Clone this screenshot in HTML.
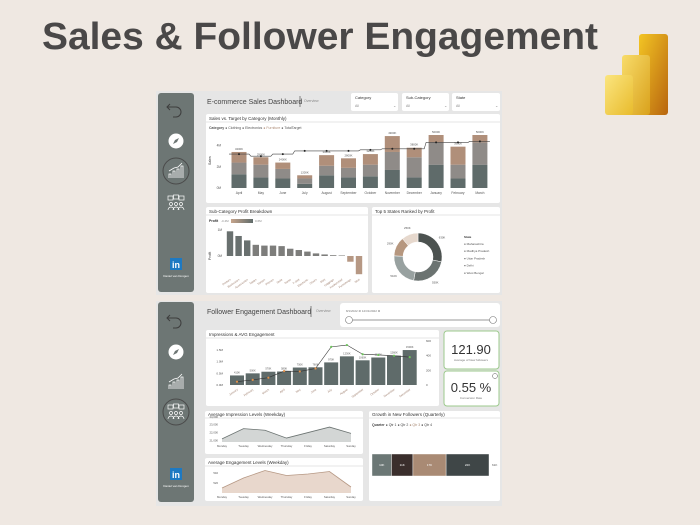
<!DOCTYPE html>
<html><head><meta charset="utf-8"><style>
body{margin:0;background:#efe8e2;}
svg{display:block;font-family:"Liberation Sans",sans-serif;}
</style></head><body>
<svg id="s" width="700" height="525" viewBox="0 0 700 525" xmlns="http://www.w3.org/2000/svg">
<defs>
<linearGradient id="g1" x1="0" y1="0" x2="1" y2="1"><stop offset="0" stop-color="#f3c524"/><stop offset="1" stop-color="#b8650f"/></linearGradient>
<linearGradient id="g2" x1="0" y1="0" x2="1" y2="1"><stop offset="0" stop-color="#f8dc6a"/><stop offset="1" stop-color="#d9a11c"/></linearGradient>
<linearGradient id="g3" x1="0" y1="0" x2="1" y2="1"><stop offset="0" stop-color="#fbe57f"/><stop offset="1" stop-color="#e8bb2c"/></linearGradient>
<linearGradient id="pg" x1="0" x2="1"><stop offset="0" stop-color="#c7a58c"/><stop offset="1" stop-color="#5f6b6a"/></linearGradient>
<g id="chartIco"><path d="M-7 7V3h2v4M-3 7V0h2v7M1 7v-9h2v9M5 7v-12h2v12" fill="none" stroke="#fff" stroke-width="0.8"/><path d="M-7 0L-2-3 2-4 6-8" fill="none" stroke="#fff" stroke-width="0.8"/></g>
<g id="peopleIco"><rect x="-8" y="-7" width="5" height="4" fill="none" stroke="#fff" stroke-width="0.7"/><rect x="-2.5" y="-8" width="5" height="4" fill="none" stroke="#fff" stroke-width="0.7"/><rect x="3" y="-7" width="5" height="4" fill="none" stroke="#fff" stroke-width="0.7"/><circle cx="-5" cy="1" r="1.5" fill="none" stroke="#fff" stroke-width="0.7"/><circle cx="0" cy="1" r="1.5" fill="none" stroke="#fff" stroke-width="0.7"/><circle cx="5" cy="1" r="1.5" fill="none" stroke="#fff" stroke-width="0.7"/><path d="M-8 7a3 3 0 0 1 6 0M-3 7a3 3 0 0 1 6 0M2 7a3 3 0 0 1 6 0" fill="none" stroke="#fff" stroke-width="0.7"/></g>
<g id="compIco"><circle r="7.5" fill="#fff"/><path d="M3-3L-1-1-3 3 1 1Z" fill="#6d7674"/></g>
</defs>
<rect width="700" height="525" fill="#efe8e2"/>
<text x="42" y="49" font-size="38" font-weight="bold" fill="#4a4848" textLength="556" lengthAdjust="spacingAndGlyphs">Sales &amp; Follower Engagement</text>
<g>
<rect x="639" y="34" width="29" height="81" rx="3" fill="url(#g1)"/>
<rect x="622" y="55" width="28" height="60" rx="3" fill="url(#g2)"/>
<rect x="605" y="75" width="28" height="40" rx="3" fill="url(#g3)"/>
</g>

<!-- Dashboard 1 -->
<g>
<rect x="156" y="91" width="346" height="204" fill="#e6e6e6"/>
<rect x="158" y="93" width="36" height="199" rx="3" fill="#6d7674"/>
<path d="M170 104l-3 3 3 3M167 107h9a5 5 0 0 1 0 10h-3" fill="none" stroke="#3d3d3d" stroke-width="1"/>
<use href="#compIco" x="176" y="141"/>
<circle cx="176" cy="171" r="13" fill="none" stroke="#4a4a4a" stroke-width="1"/>
<use href="#chartIco" x="176" y="171"/>
<use href="#peopleIco" x="176" y="203"/>
<rect x="170" y="258" width="12" height="12" fill="#1d79c2"/>
<text x="176" y="268" font-size="9" fill="#fff" font-weight="bold" text-anchor="middle">in</text>
<text x="176" y="277" font-size="3" fill="#fff" text-anchor="middle">Daniel van Dongen</text>
<text x="207" y="104" font-size="7" fill="#444">E-commerce Sales Dashboard</text>
<line x1="300" y1="96" x2="300" y2="107" stroke="#555" stroke-width="0.7"/>
<text x="304" y="102" font-size="3.5" fill="#888">Overview</text>
<g><rect x="351" y="93" width="47" height="18" rx="2" fill="#fff"/><text x="355" y="99" font-size="4" fill="#333">Category</text><text x="355" y="107" font-size="3.5" fill="#888">All</text><text x="393" y="107" font-size="4" fill="#888">⌄</text></g>
<g><rect x="402" y="93" width="47" height="18" rx="2" fill="#fff"/><text x="406" y="99" font-size="4" fill="#333">Sub-Category</text><text x="406" y="107" font-size="3.5" fill="#888">All</text><text x="444" y="107" font-size="4" fill="#888">⌄</text></g>
<g><rect x="452" y="93" width="48" height="18" rx="2" fill="#fff"/><text x="456" y="99" font-size="4" fill="#333">State</text><text x="456" y="107" font-size="3.5" fill="#888">All</text><text x="495" y="107" font-size="4" fill="#888">⌄</text></g>
<rect x="206" y="114" width="294" height="89" rx="2" fill="#fff"/>
<text x="209" y="120" font-size="4.5" fill="#333">Sales vs. Target by Category (Monthly)</text>
<line x1="206" y1="122" x2="500" y2="122" stroke="#ccc" stroke-width="0.5"/>
<text x="209" y="129" font-size="3.5" fill="#555"><tspan font-weight="bold">Category</tspan> ● Clothing ● Electronics <tspan fill="#b08f7a">● Furniture</tspan> ● TotalTarget</text>
<text x="211" y="165" font-size="3.5" fill="#333" transform="rotate(-90 211 165)">Sales</text>
<g id="salesChart"></g>
<rect x="206" y="207" width="162" height="86" rx="2" fill="#fff"/>
<text x="209" y="213" font-size="4.5" fill="#333">Sub-Category Profit Breakdown</text>
<line x1="206" y1="215" x2="368" y2="215" stroke="#ccc" stroke-width="0.5"/>
<text x="209" y="222" font-size="3.5" fill="#333" font-weight="bold">Profit</text><text x="221" y="222" font-size="3" fill="#888">-0.4M</text>
<rect x="231" y="219" width="22" height="4" fill="url(#pg)"/><text x="255" y="222" font-size="3" fill="#888">0.6M</text>
<text x="211" y="260" font-size="3.5" fill="#333" transform="rotate(-90 211 260)">Profit</text>
<g id="subChart"></g>
<rect x="372" y="207" width="128" height="86" rx="2" fill="#fff"/>
<text x="375" y="213" font-size="4.5" fill="#333">Top 5 States Ranked by Profit</text>
<line x1="372" y1="215" x2="500" y2="215" stroke="#ccc" stroke-width="0.5"/>
<g id="donut"></g>
</g>

<!-- Dashboard 2 -->
<g>
<rect x="156" y="301" width="346" height="205" fill="#e6e6e6"/>
<rect x="158" y="302" width="36" height="200" rx="3" fill="#6d7674"/>
<path d="M170 315l-3 3 3 3M167 318h9a5 5 0 0 1 0 10h-3" fill="none" stroke="#3d3d3d" stroke-width="1"/>
<use href="#compIco" x="176" y="352"/>
<use href="#chartIco" x="176" y="382"/>
<circle cx="176" cy="412" r="13" fill="none" stroke="#4a4a4a" stroke-width="1"/>
<use href="#peopleIco" x="176" y="412"/>
<rect x="170" y="468" width="12" height="12" fill="#1d79c2"/>
<text x="176" y="478" font-size="9" fill="#fff" font-weight="bold" text-anchor="middle">in</text>
<text x="176" y="487" font-size="3" fill="#fff" text-anchor="middle">Daniel van Dongen</text>
<text x="207" y="314" font-size="7" fill="#444">Follower Engagement Dashboard</text>
<line x1="311" y1="306" x2="311" y2="317" stroke="#555" stroke-width="0.7"/>
<text x="316" y="312" font-size="3.5" fill="#888">Overview</text>
<g>
<rect x="340" y="303" width="160" height="24" rx="3" fill="#fff"/>
<text x="346" y="312" font-size="3" fill="#777">8/1/2022 ⊗  12/31/2022 ⊗</text>
<line x1="348" y1="320" x2="493" y2="320" stroke="#999" stroke-width="1"/>
<circle cx="349" cy="320" r="3.5" fill="#fff" stroke="#777" stroke-width="0.6"/>
<circle cx="493" cy="320" r="3.5" fill="#fff" stroke="#777" stroke-width="0.6"/>
</g>
<rect x="206" y="330" width="233" height="76" rx="2" fill="#fff"/>
<text x="209" y="336" font-size="4.5" fill="#333">Impressions &amp; AVG Engagement</text>
<line x1="206" y1="338" x2="439" y2="338" stroke="#ccc" stroke-width="0.5"/>
<g id="impChart"></g>
<g><rect x="444" y="331" width="55" height="38" rx="3" fill="#fff" stroke="#9cc98c" stroke-width="1"/>
<text x="471" y="354" font-size="13" fill="#333" text-anchor="middle">121.90</text><text x="471" y="361" font-size="3" fill="#777" text-anchor="middle">Average of New followers</text></g>
<g><rect x="444" y="371" width="55" height="35" rx="3" fill="#fff" stroke="#9cc98c" stroke-width="1"/>
<text x="471" y="392" font-size="13" fill="#333" text-anchor="middle">0.55 %</text><text x="471" y="399" font-size="3" fill="#777" text-anchor="middle">Conversion Rate</text>
<circle cx="495" cy="376" r="2.5" fill="none" stroke="#555" stroke-width="0.5"/></g>
<rect x="205" y="411" width="158" height="43" rx="2" fill="#fff"/>
<text x="208" y="416" font-size="4.5" fill="#333">Average Impression Levels (Weekday)</text>
<line x1="205" y1="418" x2="363" y2="418" stroke="#ccc" stroke-width="0.5"/>
<g id="impWeek"></g>
<rect x="205" y="458" width="158" height="43" rx="2" fill="#fff"/>
<text x="208" y="464" font-size="4.5" fill="#333">Average Engagement Levels (Weekday)</text>
<line x1="205" y1="466" x2="363" y2="466" stroke="#ccc" stroke-width="0.5"/>
<g id="engWeek"></g>
<rect x="369" y="411" width="131" height="90" rx="2" fill="#fff"/>
<text x="372" y="416" font-size="4.5" fill="#333">Growth in New Followers (Quarterly)</text>
<line x1="369" y1="418" x2="500" y2="418" stroke="#ccc" stroke-width="0.5"/>
<text x="372" y="426" font-size="3.5" fill="#444"><tspan font-weight="bold">Quarter</tspan> ● Qtr 1 ● Qtr 2 <tspan fill="#a98a74">● Qtr 3</tspan> ● Qtr 4</text>
<g id="growth"></g>
</g>

<script>
const NS="http://www.w3.org/2000/svg";
function mk(p,tag,a){const e=document.createElementNS(NS,tag);for(const k in a)e.setAttribute(k,a[k]);p.appendChild(e);return e;}
// ---- Sales chart data ----
const months=["April","May","June","July","August","September","October","November","December","January","February","March"];
const clothing=[1.3,1.0,0.9,0.4,1.2,1.0,1.1,1.7,1.0,2.2,0.9,2.2];
const electronics=[1.1,1.2,0.9,0.5,0.9,0.9,1.1,1.7,1.9,2.1,1.3,2.1];
const furniture=[1.0,0.7,0.6,0.3,1.0,0.9,1.0,1.5,0.9,0.7,1.7,0.7];
const totalTarget=[3.2,3.0,3.2,3.5,3.5,3.5,3.6,3.7,3.7,4.3,4.3,4.4];
const salesTicks=["0M","2M","4M"];
(function(){
 const g=document.getElementById('salesChart');
 const x=i=>239+i*21.9, y=v=>188-v*10.6;
 salesTicks.forEach((t,i)=>{const e=mk(g,'text',{x:221,y:y(i*2)+1,'font-size':3.2,fill:'#555','text-anchor':'end'});e.textContent=t;});
 const cols=['#5f6b6a','#8f8b88','#b08f7a'];
 months.forEach((m,i)=>{
  let base=0;[clothing[i],electronics[i],furniture[i]].forEach((v,k)=>{
   const r=mk(g,'rect',{x:x(i)-7.5,y:y(base+v),width:15,height:v*10.6,fill:cols[k]});
   
   
   base+=v;});
  const tot=clothing[i]+electronics[i]+furniture[i];
  const l=mk(g,'text',{x:x(i),y:y(tot)-2,'font-size':2.8,fill:'#555','text-anchor':'middle'});l.textContent=(tot*1000).toFixed(0)+'K';
  const t=mk(g,'text',{x:x(i),y:194,'font-size':3.3,fill:'#555','text-anchor':'middle'});t.textContent=m;
 });
 let d='';totalTarget.forEach((v,i)=>{d+=(i?'L':'M')+(x(i)-10)+' '+y(v)+'L'+(x(i)+10)+' '+y(v);});
 mk(g,'path',{d:d,fill:'none',stroke:'#444','stroke-width':0.6});
 totalTarget.forEach((v,i)=>mk(g,'circle',{cx:x(i),cy:y(v),r:1,fill:'#222'}));
})();
// ---- Sub-category profit ----
const subcats=["Printers","Bookcases","Accessories","Tables","Sarees","Phones","Stole","Saree","T-shirt","Electronic","Chairs","Shirt","Leggings","Hankerchief","Furnishings","Skirt"];
const profit=[0.95,0.77,0.6,0.43,0.4,0.4,0.38,0.28,0.23,0.17,0.1,0.06,0.03,0.02,-0.22,-0.7];
const profitTicks=["0M","1M"];
(function(){
 const g=document.getElementById('subChart');
 const x=i=>230+i*8.6, y=v=>256-v*26;
 profitTicks.forEach((t,i)=>{const e=mk(g,'text',{x:222,y:y(i)+1,'font-size':3.2,fill:'#555','text-anchor':'end'});e.textContent=t;});
 profit.forEach((v,i)=>{
  const r=mk(g,'rect',{x:x(i)-3.2,y:Math.min(y(v),y(0)),width:6.4,height:Math.abs(v)*26,fill:v<0?'#b69884':(v>0.5?'#69706f':'#7d7d7b')});
  
  
  const t=mk(g,'text',{x:x(i)+1,y:280,'font-size':2.8,fill:'#a08070','text-anchor':'end',transform:'rotate(-35 '+(x(i)+1)+' 280)'});t.textContent=subcats[i];
 });
})();
// ---- Donut ----
const states=["Maharashtra","Madhya Pradesh","Uttar Pradesh","Delhi","West Bengal"];
const stateProfit=[0.63,0.55,0.51,0.29,0.25];
(function(){
 const g=document.getElementById('donut');
 const cx=418,cy=257,R=24,r=15,cols=['#4c5250','#6b7371','#98a1a0','#b6977f','#e6d8cd'];
 const tot=stateProfit.reduce((a,b)=>a+b,0);let a0=-Math.PI/2;
 stateProfit.forEach((v,i)=>{
  const a1=a0+v/tot*2*Math.PI,lg=a1-a0>Math.PI?1:0,P=(rr,a)=>(cx+rr*Math.cos(a))+' '+(cy+rr*Math.sin(a));
  const p=mk(g,'path',{d:'M'+P(R,a0)+'A'+R+' '+R+' 0 '+lg+' 1 '+P(R,a1)+'L'+P(r,a1)+'A'+r+' '+r+' 0 '+lg+' 0 '+P(r,a0)+'Z',fill:cols[i],stroke:'#fff','stroke-width':0.5});
  
  
  const am=(a0+a1)/2,t=mk(g,'text',{x:cx+31*Math.cos(am),y:cy+31*Math.sin(am)+1,'font-size':2.8,fill:'#555','text-anchor':'middle'});t.textContent=(v*1000).toFixed(0)+'K';
  const l=mk(g,'text',{x:464,y:245+i*7.2,'font-size':3,fill:'#555'});l.textContent='● '+states[i];
  a0=a1;});
 const h=mk(g,'text',{x:464,y:238,'font-size':3,fill:'#333','font-weight':'bold'});h.textContent='State';
})();
// ---- Impressions chart ----
const impMonths=["January","February","March","April","May","June","July","August","September","October","November","December"];
const impressions=[0.41,0.5,0.57,0.58,0.75,0.76,0.97,1.23,1.06,1.18,1.26,1.5];
const avgEngagement=[45,70,100,190,185,225,520,545,420,410,400,380];
const impTicks=["0.0M","0.5M","1.0M","1.5M"];
const engTicks=["0","200","400","600"];
(function(){
 const g=document.getElementById('impChart');
 const x=i=>237+i*15.7, y=v=>385-v*23.3, y2=v=>385-v*0.0733;
 impTicks.forEach((t,i)=>{const e=mk(g,'text',{x:223,y:y(i*0.5)+1,'font-size':3,fill:'#555','text-anchor':'end'});e.textContent=t;});
 engTicks.forEach((t,i)=>{const e=mk(g,'text',{x:426,y:y2(i*200)+1,'font-size':3,fill:'#555'});e.textContent=t;});
 impressions.forEach((v,i)=>{
  const r=mk(g,'rect',{x:x(i)-7,y:y(v),width:14,height:v*23.3,fill:'#5f6b6a'});
  
  
  const l=mk(g,'text',{x:x(i),y:y(v)-2,'font-size':2.6,fill:'#555','text-anchor':'middle'});l.textContent=(v*1000).toFixed(0)+'K';
  const t=mk(g,'text',{x:x(i)+1,y:390,'font-size':2.8,fill:'#a08070','text-anchor':'end',transform:'rotate(-35 '+(x(i)+1)+' 390)'});t.textContent=impMonths[i];
 });
 mk(g,'polyline',{points:avgEngagement.map((v,i)=>x(i)+','+y2(v)).join(' '),fill:'none',stroke:'#333','stroke-width':0.6});
 avgEngagement.forEach((v,i)=>mk(g,'circle',{cx:x(i),cy:y2(v),r:1.1,fill:i<6?'#e0904a':'#6cc35a'}));
})();
// ---- Weekday areas ----
const weekdays=["Monday","Tuesday","Wednesday","Thursday","Friday","Saturday","Sunday"];
const avgImpressionWeek=[21200,22500,22300,21300,22000,22700,21900];
const impWeekTicks=["21,000","22,000","23,000","24,000"];
const avgEngagementWeek=[510,530,545,535,538,543,512];
const engWeekTicks=["520","540"];
function area(id,vals,min,max,top,bot,fill,stroke,ticks,tmin,tstep){
 const g=document.getElementById(id),x=i=>222+i*21.5,y=v=>bot-(v-min)/(max-min)*(bot-top);
 ticks.forEach((t,i)=>{const e=mk(g,'text',{x:218,y:y(tmin+i*tstep)+1,'font-size':2.8,fill:'#555','text-anchor':'end'});e.textContent=t;});
 const p=mk(g,'path',{d:'M'+x(0)+' '+bot+vals.map((v,i)=>'L'+x(i)+' '+y(v)).join('')+'L'+x(vals.length-1)+' '+bot+'Z',fill:fill});
 
 
 mk(g,'polyline',{points:vals.map((v,i)=>x(i)+','+y(v)).join(' '),fill:'none',stroke:stroke,'stroke-width':0.8});
 weekdays.forEach((d,i)=>{const t=mk(g,'text',{x:x(i),y:bot+5,'font-size':2.8,fill:'#555','text-anchor':'middle'});t.textContent=d;});
}
area('impWeek',avgImpressionWeek,20800,23600,420,442,'#d3d6d5','#6b7371',impWeekTicks,21000,1000);
area('engWeek',avgEngagementWeek,500,550,468,493,'#e8d7cc','#b69884',engWeekTicks,520,20);
// ---- Growth stacked bar ----
const quarters=["Qtr 1","Qtr 2","Qtr 3","Qtr 4"];
const newFollowers=[10,11,17,22];
(function(){
 const g=document.getElementById('growth'),cols=['#6b7775','#3a2e2c','#a98a74','#3f4647'],k=117/60;let x0=372;
 newFollowers.forEach((v,i)=>{
  const r=mk(g,'rect',{x:x0,y:454,width:v*k,height:22,fill:cols[i],stroke:'#fff','stroke-width':0.4});
  
  
  const t=mk(g,'text',{x:x0+v*k/2,y:466,'font-size':3,fill:'#fff','text-anchor':'middle'});t.textContent=v+'K';
  x0+=v*k;});
 const t=mk(g,'text',{x:x0+3,y:466,'font-size':3,fill:'#555'});t.textContent='61K';
})();
</script>
</svg>
</body></html>
